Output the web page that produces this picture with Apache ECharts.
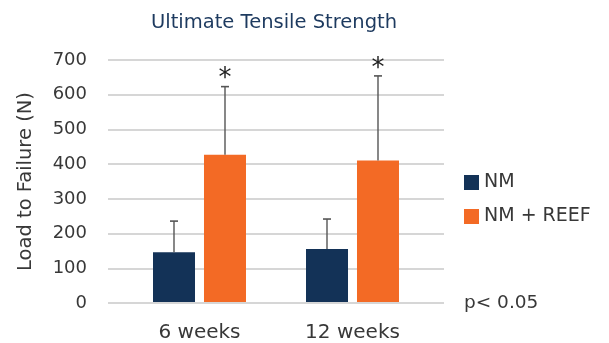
<!DOCTYPE html>
<html>
<head>
<meta charset="utf-8">
<script src="https://cdn.jsdelivr.net/npm/echarts@6/dist/echarts.min.js"></script>
<style>
  html, body { margin: 0; padding: 0; background: #ffffff; }
  #chart { width: 609px; height: 343px; }
</style>
</head>
<body>
<div id="chart"></div>
<script>
// Ultimate tensile strength: mean load to failure with upper SD bars
const categories = ['6 weeks', '12 weeks'];
const seriesNames = ['NM', 'NM + REEF'];
const nmMean = [144, 153];
const nmSD = [90, 87];
const reefMean = [426, 409];
const reefSD = [197, 245];
const reefSignificance = ['*', '*'];
const yTicks = [0, 100, 200, 300, 400, 500, 600, 700];
const pNote = 'p< 0.05';

const FONT = '"DejaVu Sans"';
const TEXT = '#383838';
const NAVY = '#133257';
const ORANGE = '#f36a25';
const BAR_W = 42;
const HALF_PAIR = 25.5;

function errorSeries(name, means, sds, offset, marks) {
  return {
    type: 'custom',
    name: name + ' SD',
    xAxisIndex: 1,
    yAxisIndex: 1,
    silent: true,
    z: 5,
    data: means.map((m, i) => [i, m, m + sds[i]]),
    renderItem: function (params, api) {
      const base = api.coord([api.value(0), api.value(1)]);
      const top = api.coord([api.value(0), api.value(2)]);
      const x = base[0] + offset;
      const children = [
        { type: 'line', shape: { x1: x, y1: base[1], x2: x, y2: top[1] },
          style: { stroke: '#555555', lineWidth: 1.4 } },
        { type: 'line', shape: { x1: x - 4, y1: top[1], x2: x + 4, y2: top[1] },
          style: { stroke: '#555555', lineWidth: 1.6 } }
      ];
      if (marks) {
        children.push({
          type: 'text',
          style: { x: x, y: top[1] - 7, text: marks[params.dataIndex],
                   font: '26px ' + FONT, fill: '#222222',
                   align: 'center', verticalAlign: 'middle' }
        });
      }
      return { type: 'group', children: children };
    }
  };
}

const chart = echarts.init(document.getElementById('chart'), null, { renderer: 'canvas' });
chart.setOption({
  animation: false,
  backgroundColor: '#ffffff',
  textStyle: { fontFamily: FONT },
  title: {
    text: 'Ultimate Tensile Strength',
    left: 146, top: 8,
    textStyle: { fontFamily: FONT, fontSize: 19.5, fontWeight: 'normal', color: '#1d3a5f' }
  },
  legend: {
    orient: 'vertical',
    left: 464, top: 173, padding: 0,
    itemWidth: 15, itemHeight: 15, itemGap: 15,
    icon: 'rect',
    data: seriesNames,
    textStyle: { fontFamily: FONT, fontSize: 19, lineHeight: 19, color: TEXT, padding: [0, 0, 0, 0] }
  },
  grid: [
    { left: 108, right: 165, top: 60, bottom: 40 },
    { left: 123, right: 180, top: 60, bottom: 40 }
  ],
  xAxis: [
    { type: 'value', gridIndex: 0, show: false, min: 0, max: 1 },
    { type: 'category', gridIndex: 1, data: categories,
      axisLine: { show: false }, axisTick: { show: false },
      axisLabel: { margin: 21, fontFamily: FONT, fontSize: 20, color: TEXT } }
  ],
  yAxis: [
    { type: 'value', gridIndex: 0, min: yTicks[0], max: yTicks[yTicks.length - 1], interval: 100,
      name: 'Load to Failure (N)', nameLocation: 'middle', nameGap: 72, nameRotate: 90,
      nameTextStyle: { fontFamily: FONT, fontSize: 19.5, color: TEXT },
      axisLine: { show: false }, axisTick: { show: false },
      axisLabel: { margin: 21, fontFamily: FONT, fontSize: 18, color: TEXT },
      splitLine: { lineStyle: { color: '#c8c8c8', width: 1.5 } } },
    { type: 'value', gridIndex: 1, min: yTicks[0], max: yTicks[yTicks.length - 1], interval: 100,
      show: false, splitLine: { show: false } }
  ],
  series: [
    { type: 'bar', name: seriesNames[0], xAxisIndex: 1, yAxisIndex: 1,
      data: nmMean, barWidth: BAR_W, barGap: '21.4%',
      itemStyle: { color: NAVY } },
    { type: 'bar', name: seriesNames[1], xAxisIndex: 1, yAxisIndex: 1,
      data: reefMean, barWidth: BAR_W,
      itemStyle: { color: ORANGE } },
    errorSeries(seriesNames[0], nmMean, nmSD, -HALF_PAIR, null),
    errorSeries(seriesNames[1], reefMean, reefSD, HALF_PAIR, reefSignificance)
  ],
  graphic: [
    { type: 'text', left: 464, top: 294,
      style: { text: pNote, font: '18.5px ' + FONT, fill: TEXT } }
  ]
});
</script>
</body>
</html>
